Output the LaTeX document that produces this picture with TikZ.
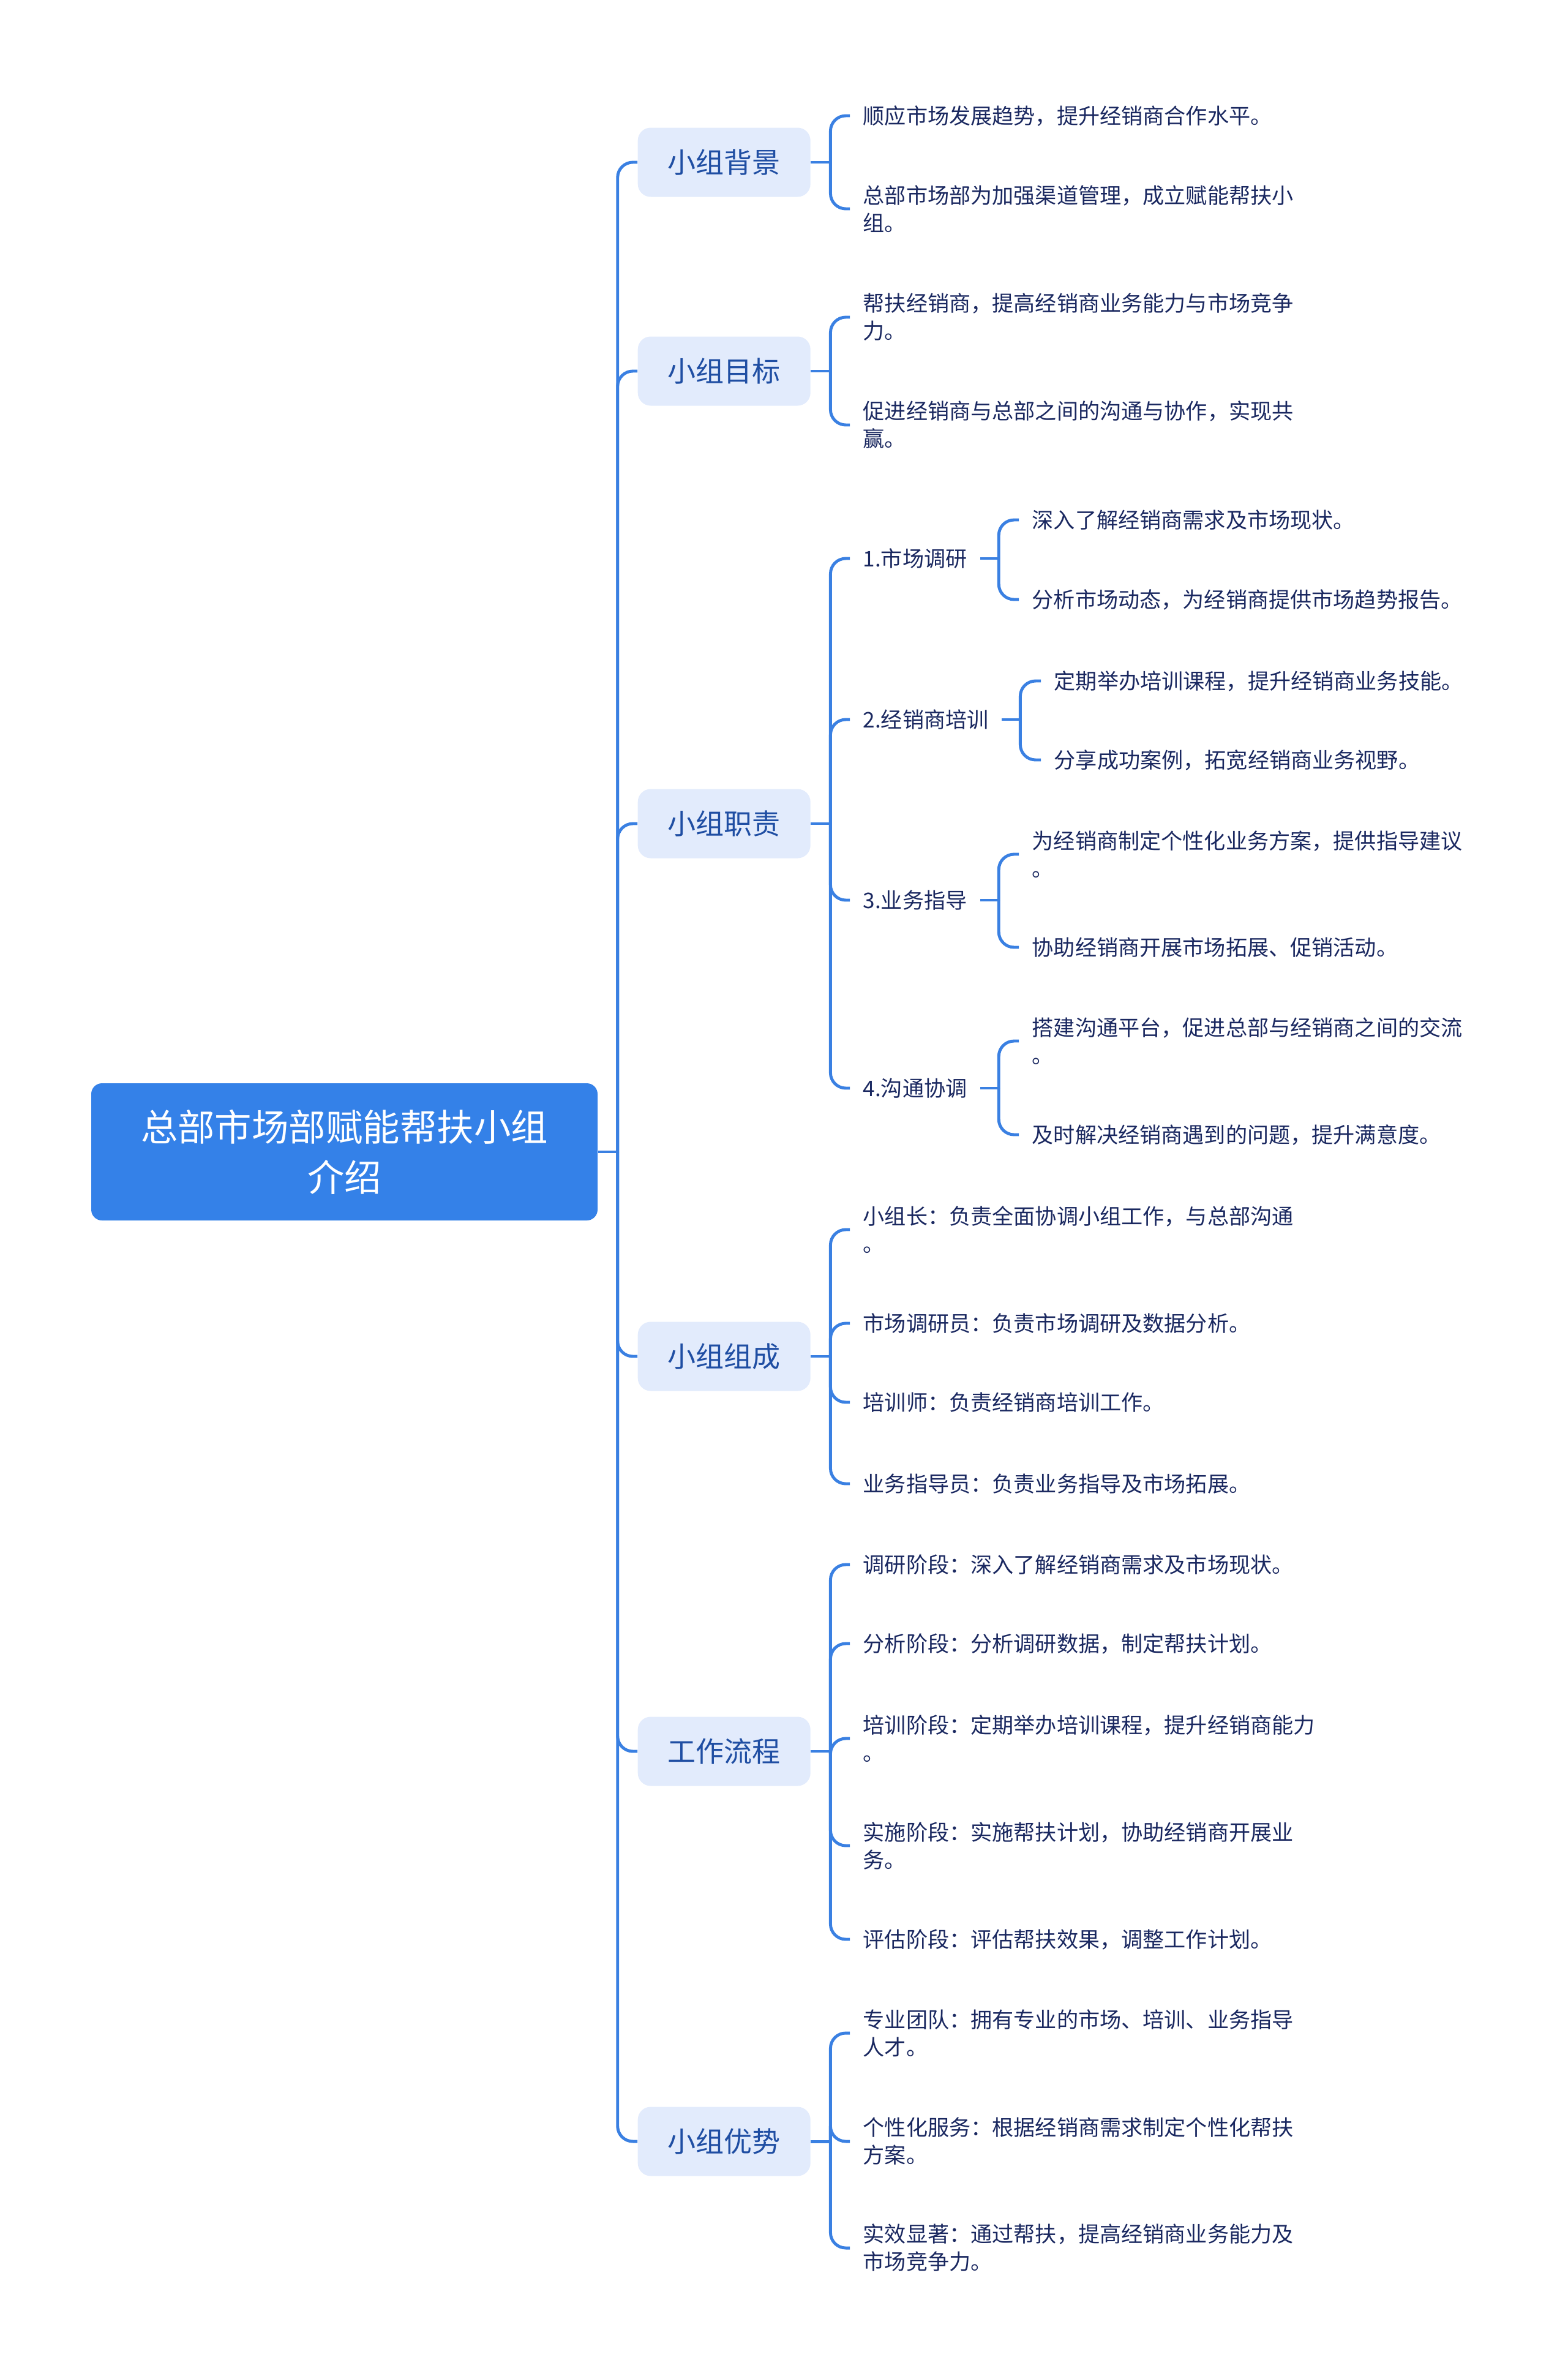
\documentclass[tikz,border=0pt]{standalone}
\usepackage{fontspec}
\newfontfamily\cjk{Noto Sans CJK SC}
\usepackage{xcolor}
\definecolor{rootblue}{HTML}{3481E8}
\definecolor{linkblue}{HTML}{3A80E2}
\definecolor{topicfill}{HTML}{E2EBFC}
\definecolor{topictext}{HTML}{1F4EA3}
\definecolor{leaftext}{HTML}{1A2860}

\begin{document}
\begin{tikzpicture}[
    root/.style={
        fill=rootblue, rounded corners=5pt,
        minimum width=8.27cm, minimum height=2.24cm,
        text=white, align=center, inner sep=0pt,
        font=\cjk\fontsize{17.2}{23.3}\selectfont
    },
    topic/.style={
        fill=topicfill, rounded corners=6pt, anchor=west,
        minimum width=2.82cm, minimum height=1.13cm,
        text=topictext, inner sep=0pt,
        font=\cjk\fontsize{13.1}{15}\selectfont
    },
    leaf/.style={
        anchor=west, inner xsep=0.21cm, inner ysep=2pt,
        align=left, text=leaftext,
        font=\cjk\fontsize{10}{12.8}\selectfont
    },
    link/.style={draw=linkblue, line width=1.4pt, rounded corners=0.25cm}
]
    \useasboundingbox (0, 0) rectangle (25.6, -38.85);

    \node[root] (root) at (5.625, -18.81) {总部市场部赋能帮扶小组\\介绍};

    \node[topic] (bg) at (10.41, -2.65) {小组背景};
    \node[topic] (goal) at (10.41, -6.06) {小组目标};
    \node[topic] (duty) at (10.41, -13.45) {小组职责};
    \node[topic] (team) at (10.41, -22.15) {小组组成};
    \node[topic] (flow) at (10.41, -28.60) {工作流程};
    \node[topic] (adv) at (10.41, -34.97) {小组优势};

    % background
    \node[leaf] (bg1) at (13.88, -1.89) {顺应市场发展趋势，提升经销商合作水平。};
    \node[leaf] (bg2) at (13.88, -3.41) {总部市场部为加强渠道管理，成立赋能帮扶小\\组。};

    % goals
    \node[leaf] (goal1) at (13.88, -5.18) {帮扶经销商，提高经销商业务能力与市场竞争\\力。};
    \node[leaf] (goal2) at (13.88, -6.94) {促进经销商与总部之间的沟通与协作，实现共\\赢。};

    % duties
    \node[leaf] (duty1) at (13.88, -9.12) {1.市场调研};
    \node[leaf] (duty2) at (13.88, -11.75) {2.经销商培训};
    \node[leaf] (duty3) at (13.88, -14.70) {3.业务指导};
    \node[leaf] (duty4) at (13.88, -17.77) {4.沟通协调};

    \node[leaf] (duty1a) at (16.64, -8.49) {深入了解经销商需求及市场现状。};
    \node[leaf] (duty1b) at (16.64, -9.79) {分析市场动态，为经销商提供市场趋势报告。};
    \node[leaf] (duty2a) at (17.0, -11.12) {定期举办培训课程，提升经销商业务技能。};
    \node[leaf] (duty2b) at (17.0, -12.41) {分享成功案例，拓宽经销商业务视野。};
    \node[leaf] (duty3a) at (16.64, -13.95) {为经销商制定个性化业务方案，提供指导建议\\。};
    \node[leaf] (duty3b) at (16.64, -15.47) {协助经销商开展市场拓展、促销活动。};
    \node[leaf] (duty4a) at (16.64, -17.00) {搭建沟通平台，促进总部与经销商之间的交流\\。};
    \node[leaf] (duty4b) at (16.64, -18.53) {及时解决经销商遇到的问题，提升满意度。};

    % team
    \node[leaf] (team1) at (13.88, -20.08) {小组长：负责全面协调小组工作，与总部沟通\\。};
    \node[leaf] (team2) at (13.88, -21.61) {市场调研员：负责市场调研及数据分析。};
    \node[leaf] (team3) at (13.88, -22.90) {培训师：负责经销商培训工作。};
    \node[leaf] (team4) at (13.88, -24.23) {业务指导员：负责业务指导及市场拓展。};

    % workflow
    \node[leaf] (flow1) at (13.88, -25.55) {调研阶段：深入了解经销商需求及市场现状。};
    \node[leaf] (flow2) at (13.88, -26.84) {分析阶段：分析调研数据，制定帮扶计划。};
    \node[leaf] (flow3) at (13.88, -28.39) {培训阶段：定期举办培训课程，提升经销商能力\\。};
    \node[leaf] (flow4) at (13.88, -30.14) {实施阶段：实施帮扶计划，协助经销商开展业\\务。};
    \node[leaf] (flow5) at (13.88, -31.67) {评估阶段：评估帮扶效果，调整工作计划。};

    % advantages
    \node[leaf] (adv1) at (13.88, -33.20) {专业团队：拥有专业的市场、培训、业务指导\\人才。};
    \node[leaf] (adv2) at (13.88, -34.97) {个性化服务：根据经销商需求制定个性化帮扶\\方案。};
    \node[leaf] (adv3) at (13.88, -36.71) {实效显著：通过帮扶，提高经销商业务能力及\\市场竞争力。};

    % trunk
    \draw[link] (root.east) -- ++(0.32, 0);
    \draw[link] (root.east) ++(0.32, 0) |- (bg.west);
    \draw[link] (root.east) ++(0.32, 0) |- (goal.west);
    \draw[link] (root.east) ++(0.32, 0) |- (duty.west);
    \draw[link] (root.east) ++(0.32, 0) |- (team.west);
    \draw[link] (root.east) ++(0.32, 0) |- (flow.west);
    \draw[link] (root.east) ++(0.32, 0) |- (adv.west);

    \draw[link] (bg.east) -- ++(0.32, 0);
    \draw[link] (bg.east) ++(0.32, 0) |- (bg1.west);
    \draw[link] (bg.east) ++(0.32, 0) |- (bg2.west);

    \draw[link] (goal.east) -- ++(0.32, 0);
    \draw[link] (goal.east) ++(0.32, 0) |- (goal1.west);
    \draw[link] (goal.east) ++(0.32, 0) |- (goal2.west);

    \draw[link] (duty.east) -- ++(0.32, 0);
    \draw[link] (duty.east) ++(0.32, 0) |- (duty1.west);
    \draw[link] (duty.east) ++(0.32, 0) |- (duty2.west);
    \draw[link] (duty.east) ++(0.32, 0) |- (duty3.west);
    \draw[link] (duty.east) ++(0.32, 0) |- (duty4.west);

    \draw[link] (duty1.east) -- ++(0.3, 0);
    \draw[link] (duty1.east) ++(0.3, 0) |- (duty1a.west);
    \draw[link] (duty1.east) ++(0.3, 0) |- (duty1b.west);
    \draw[link] (duty2.east) -- ++(0.3, 0);
    \draw[link] (duty2.east) ++(0.3, 0) |- (duty2a.west);
    \draw[link] (duty2.east) ++(0.3, 0) |- (duty2b.west);
    \draw[link] (duty3.east) -- ++(0.3, 0);
    \draw[link] (duty3.east) ++(0.3, 0) |- (duty3a.west);
    \draw[link] (duty3.east) ++(0.3, 0) |- (duty3b.west);
    \draw[link] (duty4.east) -- ++(0.3, 0);
    \draw[link] (duty4.east) ++(0.3, 0) |- (duty4a.west);
    \draw[link] (duty4.east) ++(0.3, 0) |- (duty4b.west);

    \draw[link] (team.east) -- ++(0.32, 0);
    \draw[link] (team.east) ++(0.32, 0) |- (team1.west);
    \draw[link] (team.east) ++(0.32, 0) |- (team2.west);
    \draw[link] (team.east) ++(0.32, 0) |- (team3.west);
    \draw[link] (team.east) ++(0.32, 0) |- (team4.west);

    \draw[link] (flow.east) -- ++(0.32, 0);
    \draw[link] (flow.east) ++(0.32, 0) |- (flow1.west);
    \draw[link] (flow.east) ++(0.32, 0) |- (flow2.west);
    \draw[link] (flow.east) ++(0.32, 0) |- (flow3.west);
    \draw[link] (flow.east) ++(0.32, 0) |- (flow4.west);
    \draw[link] (flow.east) ++(0.32, 0) |- (flow5.west);

    \draw[link] (adv.east) -- ++(0.32, 0);
    \draw[link] (adv.east) ++(0.32, 0) |- (adv1.west);
    \draw[link] (adv.east) ++(0.32, 0) |- (adv2.west);
    \draw[link] (adv.east) ++(0.32, 0) |- (adv3.west);
\end{tikzpicture}
\end{document}
